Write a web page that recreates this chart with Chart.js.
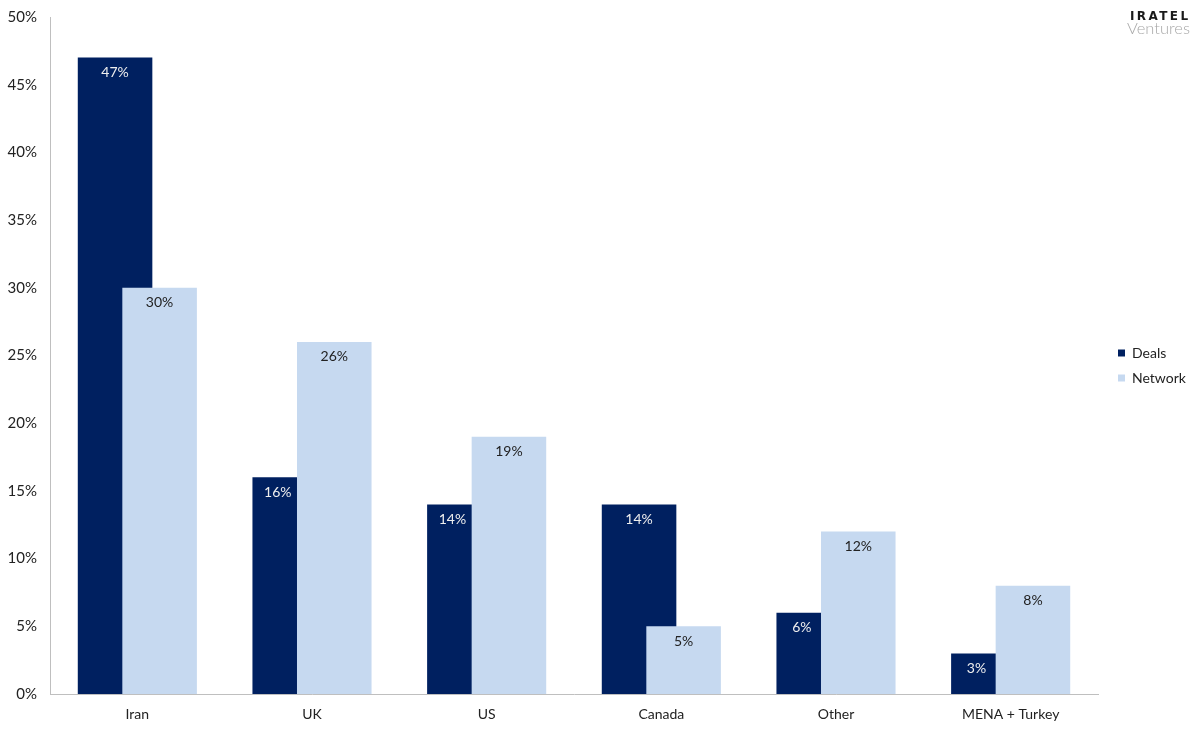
<!DOCTYPE html>
<html>
<head>
<meta charset="utf-8">
<script src="https://cdn.jsdelivr.net/npm/chart.js@4.4.0/dist/chart.umd.min.js"></script>
<style>
  html, body { margin: 0; padding: 0; background: #fff; }
  #wrap { position: relative; width: 1200px; height: 730px; }
  .logo1 { position: absolute; left: 1130px; top: 10px; font-family: "DejaVu Sans", sans-serif; font-weight: bold; font-size: 12px; letter-spacing: 2.4px; color: #1a1a1a; line-height: 1; }
  .logo2 { position: absolute; left: 1127px; top: 20px; font-family: Lato, sans-serif; font-weight: 300; font-size: 16.5px; color: #a8a8a8; line-height: 1; }
</style>
</head>
<body>
<div id="wrap">
  <canvas id="myChart" width="1200" height="730"></canvas>
  <div class="logo1">IRATEL</div>
  <div class="logo2">Ventures</div>
</div>
<script>
// Datos
var regiones = ['Iran', 'UK', 'US', 'Canada', 'Other', 'MENA + Turkey'];
var deals = [47, 16, 14, 14, 6, 3];
var network = [30, 26, 19, 5, 12, 8];

var fuente = 'Lato, "Noto Sans", sans-serif';

// Dibuja Deals primero y Network encima, luego las etiquetas de valor
var ordenBarras = {
  id: 'ordenBarras',
  beforeDatasetsDraw: function (chart) {
    chart.getDatasetMeta(0).controller.draw();
    chart.getDatasetMeta(1).controller.draw();
    var ctx = chart.ctx;
    var netBars = chart.getDatasetMeta(1).data;
    ctx.save();
    ctx.font = '14px ' + fuente;
    ctx.textAlign = 'center';
    ctx.textBaseline = 'middle';
    [0, 1].forEach(function (d) {
      var meta = chart.getDatasetMeta(d);
      ctx.fillStyle = d === 0 ? '#eeeeee' : '#222222';
      meta.data.forEach(function (bar, i) {
        var x = bar.x;
        var y = bar.y + 15;
        // si la barra Network tapa la etiqueta, se corre a la izquierda
        if (d === 0 && netBars[i].y < y) x -= bar.width * 0.16;
        ctx.fillText(chart.data.datasets[d].data[i] + '%', x, y);
      });
    });
    ctx.restore();
    return false;
  }
};

// Ancho fijo de la leyenda
var leyendaFija = {
  id: 'leyendaFija',
  afterInit: function (chart) {
    var fit = chart.legend.fit;
    chart.legend.fit = function () {
      fit.call(this);
      this.width = 102;
    };
  },
  afterLayout: function (chart) {
    chart.legend.left += 9;
    chart.legend.right += 9;
    chart.legend.top -= 8;
    chart.legend.bottom -= 8;
  }
};

var ctx = document.getElementById('myChart').getContext('2d');
var myChart = new Chart(ctx, {
  type: 'bar',
  data: {
    labels: regiones,
    datasets: [{
      label: 'Deals',
      data: deals,
      backgroundColor: '#002060',
      categoryPercentage: 0.51,
      barPercentage: 1.674
    },
    {
      label: 'Network',
      data: network,
      backgroundColor: '#c6d9f0',
      categoryPercentage: 0.51,
      barPercentage: 1.674
    }]
  },
  options: {
    responsive: false,
    animation: false,
    layout: { padding: { top: 17, bottom: 0, left: 0, right: 0 } },
    plugins: {
      legend: {
        position: 'right',
        labels: {
          boxWidth: 7,
          boxHeight: 7,
          padding: 11,
          color: '#222',
          font: { family: fuente, size: 14 }
        }
      },
      tooltip: { enabled: false }
    },
    scales: {
      x: {
        afterFit: function (scale) { scale.height = 36; },
        grid: { display: false, drawTicks: false },
        border: { color: '#bfbfbf', width: 1 },
        ticks: { color: '#222', padding: 12, font: { family: fuente, size: 14 } }
      },
      y: {
        min: 0,
        max: 50,
        afterFit: function (scale) {
          scale.width = 50;
          scale.paddingTop = 0;
        },
        grid: { display: false, drawTicks: false },
        border: { color: '#bfbfbf', width: 1 },
        ticks: {
          stepSize: 5,
          color: '#222',
          padding: 13,
          font: { family: fuente, size: 15 },
          callback: function (v) { return v + '%'; }
        }
      }
    }
  },
  plugins: [ordenBarras, leyendaFija]
});
</script>
</body>
</html>
